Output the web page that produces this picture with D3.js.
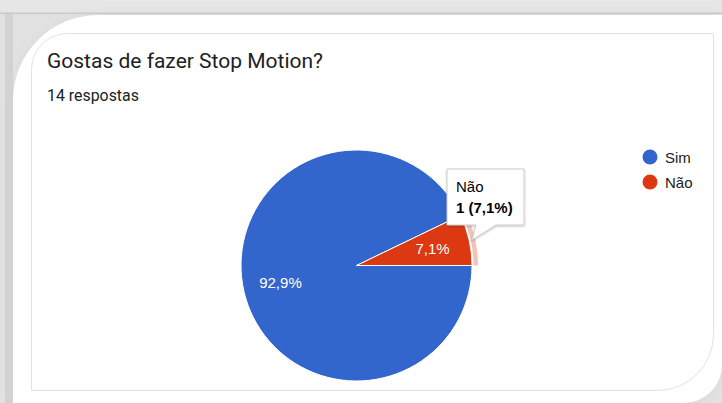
<!DOCTYPE html>
<html>
<head>
<meta charset="utf-8">
<script src="https://cdn.jsdelivr.net/npm/d3@7/dist/d3.min.js"></script>
<style>
  html, body { margin: 0; padding: 0; background: #e0e0e0; }
  svg { display: block; }
</style>
</head>
<body>
<svg id="chart" width="722" height="403"></svg>
<script>
const title = "Gostas de fazer Stop Motion?";
const subtitle = "14 respostas";
const categories = ["Sim", "Não"];
const counts = [13, 1];
const colors = ["#3366cc", "#dc3912"];
const highlighted = "Não";

const W = 722, H = 403;
const svg = d3.select("#chart");
const chartFont = "'Liberation Sans', Arial, sans-serif";
const FS = 15;

// ----- frame / background -----
const defs = svg.append("defs");
const blur = defs.append("filter").attr("id", "blur").attr("x", "-20%").attr("y", "-20%").attr("width", "140%").attr("height", "140%");
blur.append("feGaussianBlur").attr("stdDeviation", 6);
const tipShadow = defs.append("filter").attr("id", "tipShadow").attr("x", "-20%").attr("y", "-20%").attr("width", "140%").attr("height", "160%");
tipShadow.append("feDropShadow").attr("dx", 0).attr("dy", 1).attr("stdDeviation", 1.2).attr("flood-color", "#000").attr("flood-opacity", 0.25);

svg.append("rect").attr("width", W).attr("height", H).attr("fill", "#e2e2e2");
svg.append("rect").attr("x", 0).attr("y", 0).attr("width", W).attr("height", 13).attr("fill", "#e6e6e6");
svg.append("rect").attr("x", 0).attr("y", 12.5).attr("width", W).attr("height", 1.6).attr("fill", "#c9c9c9");
svg.append("rect").attr("x", 5).attr("y", 14).attr("width", 8).attr("height", H).attr("fill", "#d3d3d3");

const R1 = 85, R2 = 38;
const outerPath = `M13,${H} L13,${15 + R1} A${R1},${R1} 0 0 1 ${13 + R1},15 L${W},15 L${W},${H - R2} A${R2},${R2} 0 0 1 ${W - R2},${H} Z`;
svg.append("path").attr("d", outerPath).attr("fill", "#cfcfcf").attr("filter", "url(#blur)").attr("opacity", 0.5);
svg.append("path").attr("d", outerPath).attr("fill", "#ffffff");

// inner card
const cx0 = 31.5, cy0 = 33.5, cx1 = 713.5, cy1 = 390.5, rTL = 36, rBR = 56;
svg.append("path")
  .attr("d", `M${cx0},${cy1} L${cx0},${cy0 + rTL} A${rTL},${rTL} 0 0 1 ${cx0 + rTL},${cy0} L${cx1},${cy0} L${cx1},${cy1 - rBR} A${rBR},${rBR} 0 0 1 ${cx1 - rBR},${cy1} Z`)
  .attr("fill", "#ffffff").attr("stroke", "#e3e3e3").attr("stroke-width", 1);

// ----- titles -----
const t = svg.append("text").attr("x", 47).attr("y", 68)
  .attr("font-family", "Roboto, sans-serif").attr("font-size", 18.5).attr("fill", "#202124").text(title);
const tw = t.node().getComputedTextLength();
t.attr("font-size", 18.5 * 276 / tw);
const s = svg.append("text").attr("x", 47).attr("y", 101)
  .attr("font-family", "Roboto, sans-serif").attr("font-size", 13.5).attr("fill", "#202124").text(subtitle);
const sw = s.node().getComputedTextLength();
s.attr("font-size", 13.5 * 92 / sw);

// ----- pie -----
const cx = 356.5, cy = 265.5, R = 115.5;
const data = categories.map((c, i) => ({ cat: c, value: counts[i], color: colors[i] }));
const total = d3.sum(counts);
const pie = d3.pie().value(d => d.value).sort(null)
  .startAngle(Math.PI / 2).endAngle(Math.PI / 2 + 2 * Math.PI);
const arcs = pie(data);
const arc = d3.arc().innerRadius(0).outerRadius(R);
const labelArc = d3.arc().innerRadius(78).outerRadius(78);
const ringArc = d3.arc().innerRadius(117).outerRadius(121.5);
const fmt = v => d3.format(".1f")(v).replace(".", ",") + "%";

const g = svg.append("g").attr("transform", `translate(${cx},${cy})`);
g.selectAll("path.slice").data(arcs).join("path").attr("class", "slice")
  .attr("d", arc).attr("fill", d => d.data.color)
  .attr("stroke", "#ffffff").attr("stroke-width", 1);

g.selectAll("path.ring").data(arcs.filter(d => d.data.cat === highlighted)).join("path")
  .attr("class", "ring").attr("d", ringArc).attr("fill", d => d.data.color).attr("opacity", 0.3);

g.selectAll("text.pct").data(arcs).join("text").attr("class", "pct")
  .attr("transform", d => { const [x, y] = labelArc.centroid(d); return `translate(${x},${y})`; })
  .attr("text-anchor", "middle").attr("dy", "0.36em")
  .attr("font-family", chartFont).attr("font-size", FS)
  .attr("fill", "#ffffff").text(d => fmt(d.value / total * 100));

// ----- legend -----
const lg = svg.append("g").attr("transform", "translate(650,157)");
const items = lg.selectAll("g").data(data).join("g").attr("transform", (d, i) => `translate(0,${i * 25})`);
items.append("circle").attr("r", 7.5).attr("fill", d => d.color);
items.append("text").attr("x", 15).attr("y", 5.5)
  .attr("font-family", chartFont).attr("font-size", FS)
  .attr("fill", "#222222").text(d => d.cat);

// ----- tooltip -----
const hl = arcs.find(d => d.data.cat === highlighted);
const bx0 = 447, by0 = 169, bx1 = 524, by1 = 225;
const tip = svg.append("g");
tip.append("path")
  .attr("d", `M${bx0},${by0} L${bx1},${by0} L${bx1},${by1} L${496},${by1} L${472},${240} L${476},${by1} L${bx0},${by1} Z`)
  .attr("fill", "#ffffff").attr("stroke", "#cccccc").attr("stroke-width", 1)
  .attr("filter", "url(#tipShadow)");
tip.append("text").attr("x", 456).attr("y", 192)
  .attr("font-family", chartFont).attr("font-size", FS)
  .attr("fill", "#000000").text(hl.data.cat);
tip.append("text").attr("x", 456).attr("y", 213)
  .attr("font-family", chartFont).attr("font-size", FS).attr("font-weight", "bold")
  .attr("fill", "#000000").text(`${hl.data.value} (${fmt(hl.data.value / total * 100)})`);
</script>
</body>
</html>
